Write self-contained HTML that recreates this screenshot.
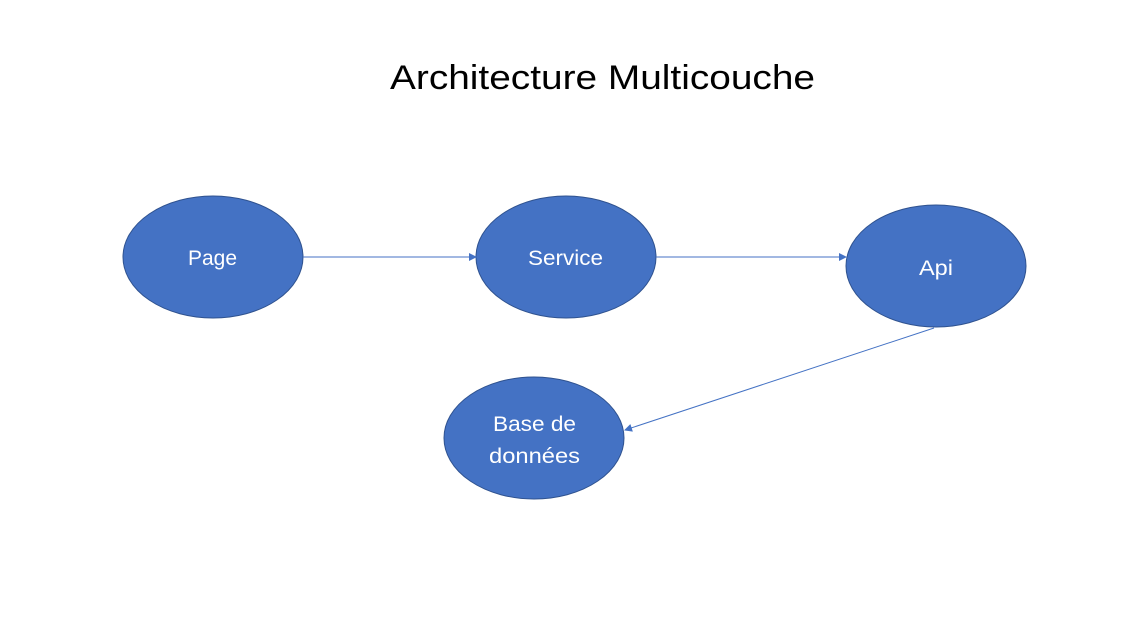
<!DOCTYPE html>
<html><head><meta charset="utf-8"><style>
html,body{margin:0;padding:0;background:#fff;}
svg{display:block;}
text{font-family:"Liberation Sans",sans-serif;}
</style></head><body>
<svg width="1132" height="618" viewBox="0 0 1132 618" xmlns="http://www.w3.org/2000/svg">
<defs><marker id="a" markerWidth="8" markerHeight="8" refX="7" refY="4" orient="auto" markerUnits="userSpaceOnUse"><path d="M0,0 L8,4 L0,8 z" fill="#4472c4"/></marker></defs>
<text x="390" y="89" font-size="34" textLength="425" lengthAdjust="spacingAndGlyphs" fill="#000">Architecture Multicouche</text>
<g fill="#4472c4" stroke="#2f528f" stroke-width="1">
<ellipse cx="213" cy="257" rx="90" ry="61"/>
<ellipse cx="566" cy="257" rx="90" ry="61"/>
<ellipse cx="936" cy="266" rx="90" ry="61"/>
<ellipse cx="534" cy="438" rx="90" ry="61"/>
</g>
<g stroke="#4472c4" stroke-width="1" marker-end="url(#a)">
<line x1="303" y1="257" x2="476" y2="257"/>
<line x1="656" y1="257" x2="846" y2="257"/>
<line x1="934" y1="328" x2="625" y2="430"/>
</g>
<g fill="#fff" font-size="21" lengthAdjust="spacingAndGlyphs">
<text x="188" y="265" textLength="49" lengthAdjust="spacingAndGlyphs">Page</text>
<text x="528" y="265" textLength="75" lengthAdjust="spacingAndGlyphs">Service</text>
<text x="919" y="275" textLength="34" lengthAdjust="spacingAndGlyphs">Api</text>
<text x="493" y="431" textLength="83" lengthAdjust="spacingAndGlyphs">Base de</text>
<text x="489" y="463" textLength="91" lengthAdjust="spacingAndGlyphs">données</text>
</g>
</svg>
</body></html>
